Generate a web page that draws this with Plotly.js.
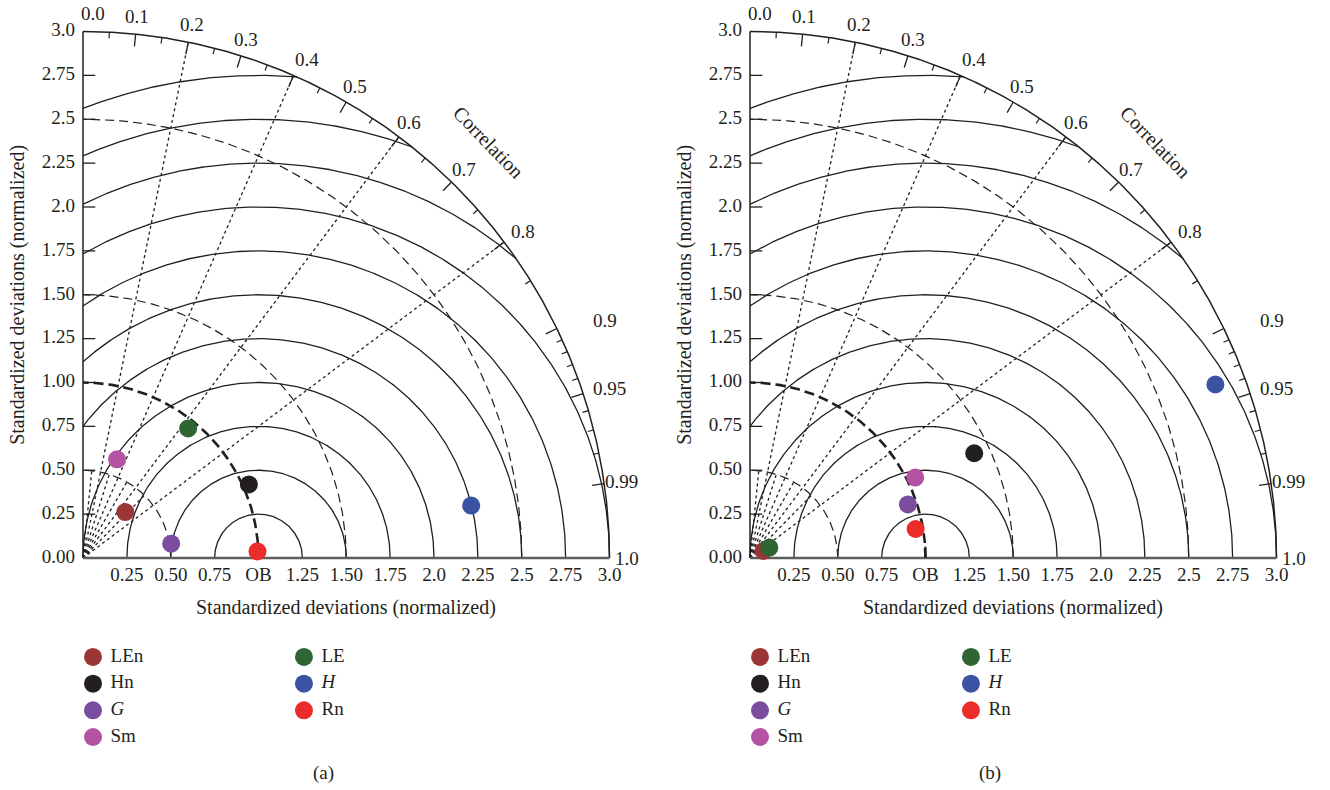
<!DOCTYPE html>
<html><head><meta charset="utf-8">
<script src="https://cdn.plot.ly/plotly-3.0.1.min.js"></script>
<style>html,body{margin:0;padding:0;background:#fff}</style>
</head>
<body><div id="chart" style="width:1330px;height:790px"></div>
<script>
// ---------- data ----------
const seriesNames  = ['LEn','Hn','G','Sm','LE','H','Rn'];
const seriesLabels = ['LEn','Hn','<i>G</i>','Sm','LE','<i>H</i>','Rn'];
const seriesColors = ['#9c3636','#231f20','#7b4d9f','#b452a3','#2f6533','#3a53a2','#ec2b2b'];
// panel (a)
const stdA  = [0.356, 1.034, 0.509, 0.595, 0.951, 2.232, 0.995];
const corrA = [0.677, 0.914, 0.987, 0.326, 0.630, 0.991, 0.9993];
// panel (b)
const stdB  = [0.086, 1.410, 0.950, 1.047, 0.125, 2.830, 0.958];
const corrB = [0.885, 0.906, 0.947, 0.899, 0.881, 0.937, 0.985];

const corrTickValues = [0.0,0.1,0.2,0.3,0.4,0.5,0.6,0.7,0.8,0.9,0.95,0.99,1.0];
const corrTickLabels = ['0.0','0.1','0.2','0.3','0.4','0.5','0.6','0.7','0.8','0.9','0.95','0.99','1.0'];
const corrMinorTicks = [0.05,0.15,0.25,0.35,0.45,0.55,0.65,0.75,0.85,0.91,0.92,0.93,0.94,0.96,0.97,0.98];
const stdYTickValues = [0,0.25,0.5,0.75,1.0,1.25,1.5,1.75,2.0,2.25,2.5,2.75,3.0];
const stdYTickLabels = ['0.00','0.25','0.50','0.75','1.00','1.25','1.50','1.75','2.0','2.25','2.5','2.75','3.0'];
const stdXTickValues = [0.25,0.5,0.75,1.0,1.25,1.5,1.75,2.0,2.25,2.5,2.75,3.0];
const stdXTickLabels = ['0.25','0.50','0.75','OB','1.25','1.50','1.75','2.0','2.25','2.5','2.75','3.0'];
const rmsRadii = [0.25,0.5,0.75,1.0,1.25,1.5,1.75,2.0,2.25,2.5,2.75];
const stdDashedRadii = [0.5,1.5,2.5];
const refStd = 1.0;
const maxStd = 3.0;
const corrRays = [0.2,0.4,0.6,0.8];
const corrShortRays = [0.1,0.3,0.5,0.7];
const shortRayLen = 0.5;
const panelTags = ['(a)','(b)'];
const axisTitle = 'Standardized deviations (normalized)';

// ---------- layout constants ----------
const S = 175.5;              // px per unit
const W = 1330, H = 790;
const FONT = 'Liberation Serif, Times New Roman, serif';
const INK = '#231f20';
const labelNudge = {'0.0': 10, '0.9': 32, '0.95': 10, '0.8': 5, '0.4': 6};

function arcO(r, t0, t1, n) {
  const xs = [], ys = [];
  for (let i = 0; i <= n; i++) { const t = t0 + (t1 - t0) * i / n; xs.push(r*Math.cos(t)); ys.push(r*Math.sin(t)); }
  return [xs, ys];
}
function rmsArc(R) {
  const c = refStd;
  let tmin = 0, tmax = Math.PI;
  if (c + R > maxStd) { const xi = (maxStd*maxStd - R*R + c*c) / (2*c); tmin = Math.acos((xi - c) / R); }
  if (R > c) tmax = Math.acos(-c / R);
  const xs = [], ys = [], n = 300;
  for (let i = 0; i <= n; i++) { const t = tmin + (tmax - tmin) * i / n; xs.push(c + R*Math.cos(t)); ys.push(R*Math.sin(t)); }
  return [xs, ys];
}
function joinSegs(segs) {
  const xs = [], ys = [];
  segs.forEach(s => { xs.push(...s[0], null); ys.push(...s[1], null); });
  return [xs, ys];
}

const traces = [];
const annotations = [];

function panel(idx, std, corr) {
  const xa = idx === 0 ? 'x' : 'x2', ya = idx === 0 ? 'y' : 'y2';
  const L = (xy, line) => traces.push({x: xy[0], y: xy[1], xaxis: xa, yaxis: ya, mode: 'lines', line: line, hoverinfo: 'skip', showlegend: false});
  const T = (xs, ys, txt, pos, size) => traces.push({x: xs, y: ys, text: txt, xaxis: xa, yaxis: ya, mode: 'text', textposition: pos,
      textfont: {family: FONT, size: size || 19, color: INK}, cliponaxis: false, hoverinfo: 'skip', showlegend: false});

  // RMS arcs about the reference
  L(joinSegs(rmsRadii.map(rmsArc)), {color: INK, width: 1.3});
  // dashed std arcs
  L(joinSegs(stdDashedRadii.map(r => arcO(r, 0, Math.PI/2, 200))), {color: INK, width: 1.2, dash: '9px,5px'});
  // dotted correlation rays
  L(joinSegs(corrRays.map(c => { const t = Math.acos(c); return [[0, maxStd*Math.cos(t)], [0, maxStd*Math.sin(t)]]; })), {color: INK, width: 1.3, dash: 'dot'});
  L(joinSegs(corrShortRays.map(c => { const t = Math.acos(c); return [[0, shortRayLen*Math.cos(t)], [0, shortRayLen*Math.sin(t)]]; })), {color: INK, width: 1.3, dash: 'dot'});
  // reference std arc (bold dashed)
  L(arcO(refStd, 0, Math.PI/2, 200), {color: INK, width: 2.6, dash: '10px,5px'});
  // outer arc
  L(arcO(maxStd, 0, Math.PI/2, 400), {color: INK, width: 1.5});
  // y axis line
  L([[0,0],[0,maxStd]], {color: INK, width: 1.5});
  // x axis line
  L([[0,maxStd],[0,0]], {color: '#5d5e60', width: 2.6});
  // y ticks
  L(joinSegs(stdYTickValues.filter(v => v > 0 && v < maxStd).map(v => [[0, 0.07],[v, v]])), {color: INK, width: 1.3});
  // OB tick
  L([[refStd, refStd],[0, 0.065]], {color: INK, width: 2});
  // correlation ticks
  const tk = (vals, len) => joinSegs(vals.filter(c => c > 0 && c < 1).map(c => { const t = Math.acos(c);
      return [[maxStd*Math.cos(t), (maxStd-len)*Math.cos(t)], [maxStd*Math.sin(t), (maxStd-len)*Math.sin(t)]]; }));
  L(tk(corrTickValues, 0.07), {color: INK, width: 1.3});
  L(tk(corrMinorTicks, 0.035), {color: INK, width: 1.2});

  // tick labels
  T(stdYTickValues.map(() => -0.045), stdYTickValues, stdYTickLabels, 'middle left');
  T(stdXTickValues, stdXTickValues.map(() => -0.105), stdXTickLabels, 'middle center');
  corrTickValues.forEach((c, i) => {
    const t = Math.acos(c), r = 3.1;
    annotations.push({xref: xa, yref: ya, x: r*Math.cos(t), y: r*Math.sin(t), text: corrTickLabels[i], showarrow: false,
      xanchor: 'center', yanchor: 'middle', xshift: labelNudge[corrTickLabels[i]] || 0,
      font: {family: FONT, size: 19, color: INK}});
  });
  // "Correlation" label
  const tc = Math.acos(0.698);
  annotations.push({xref: xa, yref: ya, x: 3.31*Math.cos(tc), y: 3.31*Math.sin(tc), text: 'Correlation', showarrow: false,
    textangle: 46, xanchor: 'center', yanchor: 'middle', font: {family: FONT, size: 20, color: INK}});
  // axis titles
  annotations.push({xref: xa, yref: ya, x: 1.5, y: -0.28, text: axisTitle, showarrow: false, xanchor: 'center', yanchor: 'middle',
    font: {family: FONT, size: 20, color: INK}});
  annotations.push({xref: xa, yref: ya, x: -0.37, y: 1.5, text: axisTitle, showarrow: false, textangle: -90, xanchor: 'center', yanchor: 'middle',
    font: {family: FONT, size: 20, color: INK}});
  // panel tag
  annotations.push({xref: xa, yref: ya, x: 1.368, y: -1.225, text: panelTags[idx], showarrow: false, xanchor: 'center', yanchor: 'middle',
    font: {family: FONT, size: 19, color: INK}});

  // data points
  seriesNames.forEach((nm, i) => {
    const t = Math.acos(corr[i]);
    traces.push({x: [std[i]*Math.cos(t)], y: [std[i]*Math.sin(t)], xaxis: xa, yaxis: ya, mode: 'markers', name: nm,
      marker: {size: 18, color: seriesColors[i], line: {width: 0}}, cliponaxis: false, hoverinfo: 'skip', showlegend: false});
  });

  // manual legend (two columns)
  const legX0 = 0.057, legColStep = 1.202, legY0 = -0.564, legRowStep = 0.152, legTextGap = 0.1;
  seriesNames.forEach((nm, i) => {
    const col = i < 4 ? 0 : 1, row = i < 4 ? i : i - 4;
    const lx = legX0 + col*legColStep, ly = legY0 - row*legRowStep;
    traces.push({x: [lx], y: [ly], xaxis: xa, yaxis: ya, mode: 'markers', marker: {size: 18, color: seriesColors[i], line: {width: 0}},
      cliponaxis: false, hoverinfo: 'skip', showlegend: false});
    T([lx + legTextGap], [ly], [seriesLabels[i]], 'middle right', 19);
  });
}

panel(0, stdA, corrA);
panel(1, stdB, corrB);

const half = 665;
const ax = (d, r) => ({domain: d, range: r, visible: false, showgrid: false, zeroline: false, fixedrange: true});
const layout = {
  width: W, height: H, margin: {l: 0, r: 0, t: 0, b: 0},
  paper_bgcolor: '#ffffff', plot_bgcolor: 'rgba(0,0,0,0)',
  showlegend: false, hovermode: false,
  xaxis:  ax([0, half/W], [(0-83)/S, (half-83)/S]),
  yaxis:  ax([0, 1], [(558-H)/S, 558/S]),
  xaxis2: ax([half/W, 1], [(half-750)/S, (W-750)/S]),
  yaxis2: ax([0, 1], [(558-H)/S, 558/S]),
  annotations: annotations
};
Plotly.newPlot('chart', traces, layout, {displayModeBar: false, staticPlot: true});
</script>
</body></html>
